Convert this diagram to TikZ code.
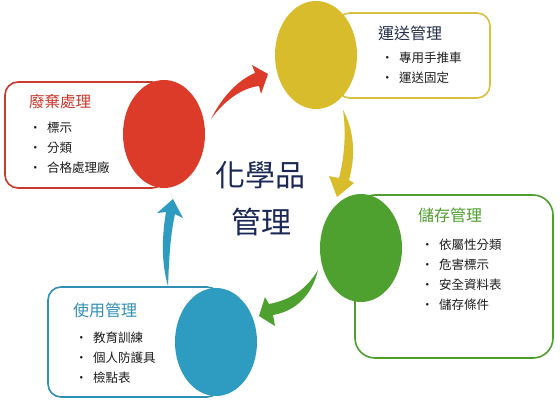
\documentclass[tikz,border=0pt]{standalone}
\usepackage{fontspec}
\setmainfont{Noto Sans CJK TC}
\usetikzlibrary{shapes.geometric}
\definecolor{cred}{HTML}{DC3B2A}
\definecolor{cyel}{HTML}{D9BC2C}
\definecolor{cgrn}{HTML}{4EA12F}
\definecolor{cblu}{HTML}{2E9CC0}
\definecolor{bred}{HTML}{C9392C}
\definecolor{byel}{HTML}{D8C040}
\definecolor{bgrn}{HTML}{4E9E2E}
\definecolor{bblu}{HTML}{2F90B4}
\definecolor{tnavy}{HTML}{1B2756}
\definecolor{tdark}{HTML}{25304A}
\definecolor{txt}{HTML}{1E1E1E}
\newcommand{\bul}{\makebox[18pt][l]{•}}
\begin{document}
\begin{tikzpicture}[x=1pt,y=-1pt,
  panel/.style={draw, line width=1.6pt, rounded corners=13pt, fill=white, inner sep=0pt},
  blob/.style={ellipse, inner sep=0pt, minimum width=82pt, minimum height=108pt},
  ttl/.style={inner sep=0pt, font=\fontsize{16}{18}\selectfont},
  lst/.style={inner sep=0pt, anchor=west, align=left, text=txt, font=\fontsize{12.5}{20}\selectfont},
  ctr/.style={inner sep=0pt, text=tnavy, font=\fontsize{30}{32}\selectfont}]
\useasboundingbox (0,0) rectangle (560,400);
\fill[white] (0,0) rectangle (560,400);
% panels
\node[panel, draw=bred, minimum width=160pt, minimum height=106pt] (pr) at (85,135) {};
\node[panel, draw=byel, minimum width=153pt, minimum height=85pt] (py) at (413.5,55.5) {};
\node[panel, draw=bgrn, minimum width=198pt, minimum height=163pt, rounded corners=20pt] (pg) at (454,276.5) {};
\node[panel, draw=bblu, minimum width=172pt, minimum height=110pt] (pb) at (134,342) {};
% blobs
\node[blob, fill=cred] (er) at (164,134) {};
\node[blob, fill=cyel] (ey) at (316,55) {};
\node[blob, fill=cgrn] (eg) at (361,248) {};
\node[blob, fill=cblu] (eb) at (216,342) {};
% titles
\node[ttl, text=bred, font=\fontsize{15.5}{17}\selectfont] (tr) at (60,102) {廢棄處理};
\node[ttl, text=tdark] (ty) at (410,33) {運送管理};
\node[ttl, text=bgrn] (tg) at (450,215) {儲存管理};
\node[ttl, text=bblu] (tb) at (105,310) {使用管理};
% lists
\node[lst] (lr) at (29,148) {\bul 標示\\ \bul 分類\\ \bul 合格處理廠};
\node[lst] (ly) at (381,68) {\bul 專用手推車\\ \bul 運送固定};
\node[lst] (lg) at (421,275) {\bul 依屬性分類\\ \bul 危害標示\\ \bul 安全資料表\\ \bul 儲存條件};
\node[lst] (lb) at (75,357.5) {\bul 教育訓練\\ \bul 個人防護具\\ \bul 檢點表};
% center
\node[ctr] (c1) at (260,175) {化學品};
\node[ctr] (c2) at (261,222) {管理};
% arrows
\fill[cred] (211,119) .. controls (222,97) and (238,80) .. (255,73)
  -- (252,65) -- (268,74) -- (261,94) -- (259,86)
  .. controls (242,88) and (225,100) .. cycle;
\fill[cyel] (343,110) .. controls (354,130) and (356,155) .. (349,180)
  -- (354,183) -- (337,197) -- (329,176) -- (339,178)
  .. controls (345,155) and (346,130) .. cycle;
\fill[cgrn] (318,270) .. controls (306,290) and (290,300) .. (269,304)
  -- (265,297) -- (259,316) -- (275,326) -- (273,315)
  .. controls (296,311) and (312,295) .. cycle;
\fill[cblu] (168,286) .. controls (161,262) and (162,236) .. (166,212)
  -- (157,213) -- (173,199) -- (183,218) -- (175,214)
  .. controls (170,236) and (169,262) .. cycle;
\end{tikzpicture}
\end{document}
